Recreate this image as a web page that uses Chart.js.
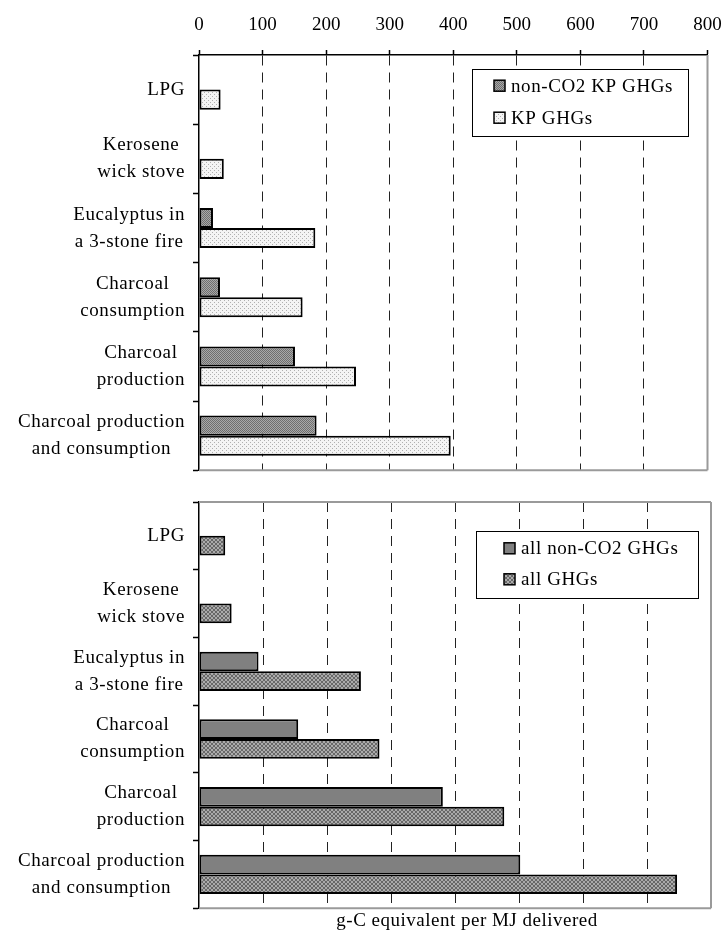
<!DOCTYPE html>
<html>
<head>
<meta charset="utf-8">
<script src="https://cdn.jsdelivr.net/npm/chart.js@4.4.0/dist/chart.umd.min.js"></script>
<style>
  body { margin: 0; background: #fff; }
  #wrap { position: relative; width: 723px; height: 932px; }
  .panel { position: absolute; left: 0; width: 723px; }
  #top { top: 0; height: 480px; }
  #bottom { top: 480px; height: 452px; }
</style>
</head>
<body>
<div id="wrap">
  <div class="panel" id="top"><canvas id="kpChart"></canvas></div>
  <div class="panel" id="bottom"><canvas id="allChart"></canvas></div>
</div>
<script>
// stove / fuel options, top to bottom
const categories = [
    ["LPG"],
    ["Kerosene", "wick stove"],
    ["Eucalyptus in", "a 3-stone fire"],
    ["Charcoal", "consumption"],
    ["Charcoal", "production"],
    ["Charcoal production", "and consumption"]
];

// g-C equivalent per MJ delivered
const kpNonCO2 = [0, 0, 22, 33, 151, 185];
const kpTotal = [34, 39, 183, 163, 247, 396];

const allNonCO2 = [0, 0, 93, 155, 381, 502];
const allTotal = [41, 51, 253, 282, 477, 747];

const xTicks = [0, 100, 200, 300, 400, 500, 600, 700, 800];

const serif = '"Liberation Serif", "Times New Roman", serif';

// small repeating fills for the bars
function pattern(base, dot, size, cells) {
    const c = document.createElement("canvas");
    c.width = size;
    c.height = size;
    const g = c.getContext("2d");
    g.fillStyle = base;
    g.fillRect(0, 0, size, size);
    g.fillStyle = dot;
    cells.forEach(([x, y]) => g.fillRect(x, y, 1, 1));
    return g.createPattern(c, "repeat");
}

const darkDots = pattern("#a8a8a8", "#6e6e6e", 2, [[0, 0], [1, 1]]);
const lightDots = pattern("#f4f4f4", "#b0b0b0", 4, [[0, 0], [2, 2]]);
const solidGrey = "#808080";
const crossHatch = pattern("#ababab", "#686868", 4,
    [[0, 0], [1, 1], [2, 2], [3, 3], [3, 0], [2, 1], [1, 2], [0, 3]]);

// multi-line category labels, lines centred within a right-aligned block
const stackedLabels = {
    id: "stackedLabels",
    afterDraw(chart, args, opts) {
        const scale = chart.scales.y;
        const ctx = chart.ctx;
        ctx.save();
        ctx.font = "19px " + serif;
        ctx.letterSpacing = "0.6px";
        ctx.fillStyle = "#000";
        ctx.textAlign = "center";
        ctx.textBaseline = "middle";
        chart.data.labels.forEach((lines, i) => {
            const y = scale.getPixelForValue(i);
            const w = Math.max(...lines.map(l => ctx.measureText(l).width));
            const cx = opts.right - w / 2;
            lines.forEach((l, k) => {
                ctx.fillText(l, cx, y + (k - (lines.length - 1) / 2) * opts.lineHeight);
            });
        });
        ctx.letterSpacing = "0px";
        ctx.restore();
    }
};

// grey frame on the sides that carry no axis, plus the optional axis caption
const panelFrame = {
    id: "panelFrame",
    afterDraw(chart, args, opts) {
        const { ctx, chartArea: a } = chart;
        ctx.save();
        ctx.strokeStyle = "#9a9a9a";
        ctx.lineWidth = 2;
        ctx.beginPath();
        if (opts.sides.includes("top")) { ctx.moveTo(a.left, a.top); ctx.lineTo(a.right, a.top); }
        if (opts.sides.includes("right")) { ctx.moveTo(a.right, a.top); ctx.lineTo(a.right, a.bottom); }
        if (opts.sides.includes("bottom")) { ctx.moveTo(a.left, a.bottom); ctx.lineTo(a.right, a.bottom); }
        ctx.stroke();
        if (opts.caption) {
            ctx.font = "19px " + serif;
            ctx.letterSpacing = "0.5px";
            ctx.fillStyle = "#000";
            ctx.textAlign = "center";
            ctx.textBaseline = "middle";
            ctx.fillText(opts.caption, (a.left + a.right) / 2 + opts.captionShift, a.bottom + opts.captionGap);
            ctx.letterSpacing = "0px";
        }
        ctx.restore();
    }
};

// legend in a bordered box inside the plot
const boxedLegend = {
    id: "boxedLegend",
    afterDraw(chart, args, opts) {
        const ctx = chart.ctx;
        ctx.save();
        ctx.fillStyle = "#fff";
        ctx.fillRect(opts.x, opts.y, opts.w, opts.h);
        ctx.strokeStyle = "#000";
        ctx.lineWidth = 1;
        ctx.strokeRect(opts.x + 0.5, opts.y + 0.5, opts.w, opts.h);
        ctx.font = "19px " + serif;
        ctx.letterSpacing = "0.6px";
        ctx.textBaseline = "middle";
        ctx.textAlign = "left";
        chart.data.datasets.forEach((ds, i) => {
            const cy = opts.y + opts.first + i * opts.step;
            ctx.fillStyle = ds.backgroundColor;
            ctx.fillRect(opts.markerX, cy - 5.5, 11, 11);
            ctx.lineWidth = 1.5;
            ctx.strokeStyle = "#000";
            ctx.strokeRect(opts.markerX, cy - 5.5, 11, 11);
            ctx.fillStyle = "#000";
            ctx.fillText(ds.label, opts.markerX + 17, cy + 1);
        });
        ctx.letterSpacing = "0px";
        ctx.restore();
    }
};

function makePanel(id, datasets, cfg) {
    return new Chart(document.getElementById(id), {
        type: "bar",
        data: {
            labels: categories,
            datasets: datasets.map(d => ({
                label: d.label,
                data: d.data,
                backgroundColor: d.fill,
                borderColor: "#000",
                borderWidth: 2,
                borderSkipped: false,
                categoryPercentage: 0.58,
                barPercentage: 1
            }))
        },
        options: {
            indexAxis: "y",
            responsive: true,
            maintainAspectRatio: false,
            animation: false,
            layout: { padding: cfg.padding },
            plugins: {
                legend: { display: false },
                tooltip: { enabled: false },
                stackedLabels: { right: 185, lineHeight: 27 },
                panelFrame: { sides: cfg.frame, caption: cfg.title, captionShift: 12, captionGap: 13 },
                boxedLegend: cfg.legend
            },
            scales: {
                x: {
                    position: cfg.axisPos,
                    min: 0,
                    max: 800,
                    afterBuildTicks: scale => {
                        scale.ticks = xTicks.map(v => ({ value: v }));
                    },
                    afterFit: scale => {
                        scale.height = cfg.axisHeight;
                        // let the end labels hang over the layout padding
                        scale.paddingLeft = 0;
                        scale.paddingRight = 0;
                    },
                    ticks: {
                        display: cfg.showTicks,
                        font: { family: serif, size: 19 },
                        color: "#000",
                        padding: 14
                    },
                    grid: {
                        color: c => (c.tick && (c.tick.value === 0 || c.tick.value === 800)) ? "rgba(0,0,0,0)" : "#222",
                        lineWidth: 1,
                        drawTicks: cfg.showTicks,
                        tickLength: 5,
                        tickColor: "#000",
                        tickWidth: 1.5,
                        tickBorderDash: []
                    },
                    border: {
                        display: cfg.showTicks,
                        color: "#000",
                        width: 1.5,
                        dash: [10, 7]
                    }
                },
                y: {
                    afterFit: scale => { scale.width = 199; },
                    ticks: { display: false },
                    grid: {
                        drawOnChartArea: false,
                        tickLength: 6,
                        tickColor: "#000",
                        tickWidth: 1.5
                    },
                    border: { color: "#000", width: 1.5 }
                }
            }
        },
        plugins: [stackedLabels, panelFrame, boxedLegend]
    });
}

makePanel("kpChart", [
    { label: "non-CO2 KP GHGs", data: kpNonCO2, fill: darkDots },
    { label: "KP GHGs", data: kpTotal, fill: lightDots }
], {
    axisPos: "top",
    axisHeight: 55,
    showTicks: true,
    padding: { left: 0, top: 0, right: 15.5, bottom: 9.7 },
    frame: ["right", "bottom"],
    legend: { x: 472, y: 69, w: 216, h: 67, first: 16.7, step: 32, markerX: 494 }
});

makePanel("allChart", [
    { label: "all non-CO2 GHGs", data: allNonCO2, fill: solidGrey },
    { label: "all GHGs", data: allTotal, fill: crossHatch }
], {
    axisPos: "bottom",
    axisHeight: 23.7,
    showTicks: false,
    title: "g-C equivalent per MJ delivered",
    padding: { left: 0, top: 22, right: 12, bottom: 0 },
    frame: ["top", "right", "bottom"],
    legend: { x: 476, y: 51, w: 222, h: 67, first: 17.3, step: 31, markerX: 504 }
});
</script>
</body>
</html>
